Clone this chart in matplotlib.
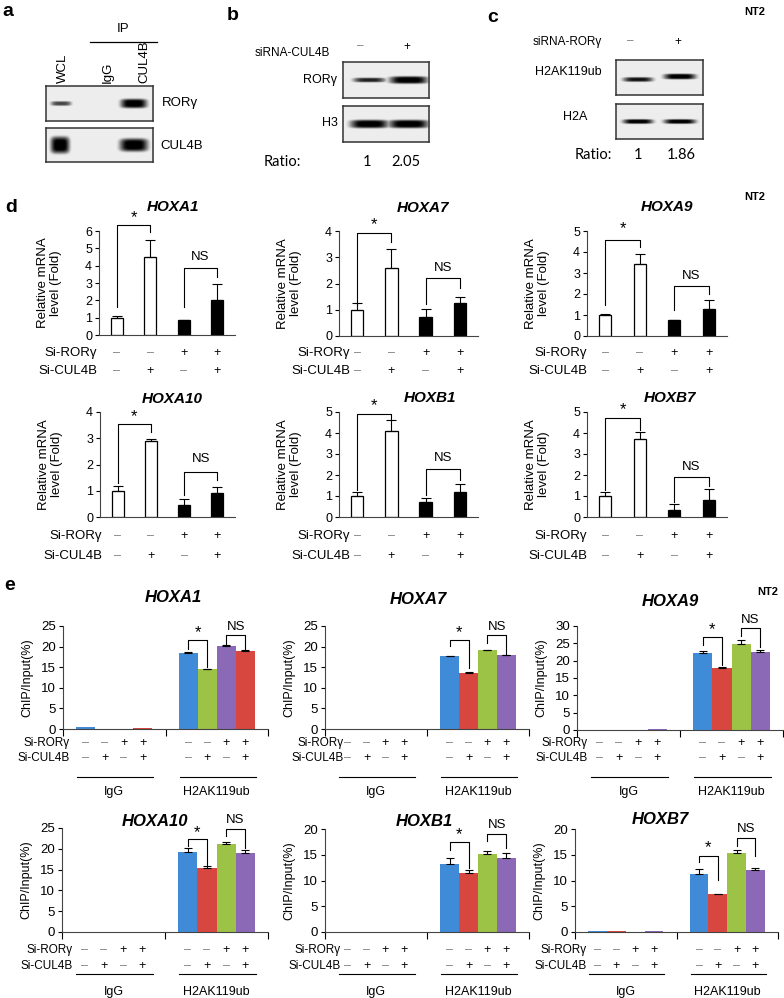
import numpy as np
import matplotlib.pyplot as plt
from matplotlib import transforms

plt.rcParams['font.family'] = ['Liberation Sans', 'DejaVu Sans']

# ---------------- data ----------------
# blots (relative band intensity per lane)
a_lanes = ['WCL', 'IgG', 'CUL4B']
a_ror = [0.75, 0.0, 1.0]
a_cul = [1.0, 0.0, 1.0]
b_ror = [0.85, 1.0]
b_h3 = [1.0, 1.0]
b_ratio = ['1', '2.05']
c_h2aub = [0.9, 1.0]
c_h2a = [1.0, 1.0]
c_ratio = ['1', '1.86']

# d: qPCR
d_genes = ['HOXA1', 'HOXA7', 'HOXA9', 'HOXA10', 'HOXB1', 'HOXB7']
d_means = [[1.0, 4.5, 0.85, 2.0], [1.0, 2.6, 0.72, 1.25], [1.0, 3.44, 0.75, 1.3],
           [1.0, 2.89, 0.44, 0.91], [1.0, 4.1, 0.7, 1.2], [1.0, 3.7, 0.35, 0.8]]
d_errs = [[0.12, 1.0, 0.0, 0.95], [0.27, 0.72, 0.3, 0.23], [0.05, 0.48, 0.0, 0.4],
          [0.19, 0.1, 0.25, 0.25], [0.2, 0.5, 0.2, 0.35], [0.2, 0.35, 0.25, 0.55]]
d_ymax = [6, 4, 5, 4, 5, 5]
# brackets: left leg bottom, top, right leg bottom, label y
d_star = [(1.6, 6.37, 5.95, 6.8), (1.17, 3.94, 3.6, 4.25), (1.46, 4.59, 4.24, 5.1),
          (1.29, 3.56, 3.24, 3.84), (1.3, 4.9, 4.65, 5.3), (1.3, 4.7, 4.15, 5.1)]
d_ns = [(1.64, 3.88, 3.34, 4.5), (1.23, 2.21, 1.84, 2.6), (1.22, 2.38, 1.98, 2.85),
        (0.85, 1.73, 1.41, 2.2), (1.05, 2.3, 1.75, 2.8), (0.7, 1.9, 1.5, 2.4)]
si_ror = ['–', '–', '+', '+']
si_cul = ['–', '+', '–', '+']

# e: ChIP
e_genes = ['HOXA1', 'HOXA7', 'HOXA9', 'HOXA10', 'HOXB1', 'HOXB7']
e_groups = ['IgG', 'H2AK119ub']
e_igg = [[0.4, 0.05, 0.1, 0.15], [0.1, 0.05, 0.05, 0.1], [0.1, 0.05, 0.1, 0.15],
         [0.05, 0.05, 0.05, 0.1], [0.05, 0.05, 0.05, 0.05], [0.2, 0.15, 0.05, 0.1]]
e_h2a = [[18.4, 14.5, 20.2, 18.9], [17.6, 13.5, 19.1, 17.9], [22.3, 18.0, 24.9, 22.4],
         [19.2, 15.3, 21.2, 18.9], [13.3, 11.4, 15.2, 14.4], [11.3, 7.3, 15.4, 12.0]]
e_h2a_err = [[0.2, 0.15, 0.15, 0.2], [0.15, 0.3, 0.15, 0.15], [0.6, 0.2, 1.0, 0.7],
             [1.0, 0.5, 0.4, 0.9], [1.0, 0.6, 0.45, 1.0], [1.0, 0.15, 0.5, 0.45]]
e_ymax = [25, 25, 30, 25, 20, 20]
e_star = [(19.5, 21.7, 15.1, 23.3), (20.1, 21.7, 14.9, 23.3), (24.4, 26.7, 18.7, 29.0),
          (20.6, 22.3, 16.1, 24.0), (16.0, 17.4, 12.4, 19.0), (13.5, 14.8, 10.1, 16.3)]
e_ns = [(20.7, 22.7, 19.1, 24.8), (20.9, 22.9, 18.1, 24.8), (27.0, 29.5, 24.0, 31.6),
        (23.0, 24.8, 20.2, 27.0), (17.6, 19.0, 16.3, 20.8), (16.7, 18.2, 14.75, 20.0)]

BLUE, RED, GREEN, PURPLE = '#3f8bd8', '#d8473f', '#9cc246', '#8b69b6'
e_colors = [[BLUE, GREEN, PURPLE, RED]] + [[BLUE, RED, GREEN, PURPLE]] * 5

# ---------------- figure helpers ----------------
W, H = 784, 998
fig = plt.figure(figsize=(W / 100, H / 100), dpi=100)
DASH = '#808080'


def px_axes(l, t, r, b):
    return fig.add_axes([l / W, 1 - b / H, (r - l) / W, (b - t) / H])


def ftext(x, y, s, **kw):
    kw.setdefault('ha', 'center')
    kw.setdefault('va', 'center')
    fig.text(x / W, 1 - y / H, s, **kw)


def fline(x0, x1, y, lw=0.9):
    fig.add_artist(plt.Line2D([x0 / W, x1 / W], [1 - y / H, 1 - y / H], color='black', lw=lw))


def draw_blot(l, t, r, b, lanes, levels, widths, heights, offsets=None):
    ax = px_axes(l, t, r, b)
    xs = np.linspace(l, r, 260)
    ys = np.linspace(t, b, 90)
    X, Y = np.meshgrid(xs, ys)
    img = np.full_like(X, 0.13)
    yc = (t + b) / 2
    if offsets is None:
        offsets = [0] * len(lanes)
    for c, lv, w, h, o in zip(lanes, levels, widths, heights, offsets):
        band = lv * np.exp(-np.abs((X - c) / w) ** 4) * np.exp(-((Y - yc - o) / h) ** 4)
        img = np.maximum(img, band)
    ax.imshow(img, cmap='Greys', vmin=0, vmax=0.95, extent=[l, r, b, t], aspect='auto',
              interpolation='bilinear')
    ax.set_xticks([])
    ax.set_yticks([])
    for s in ax.spines.values():
        s.set_linewidth(1.1)
        s.set_color('#333333')
    return ax


def bracket(ax, x1, x2, spec, text, fs):
    lb, top, rb, ty = spec
    ax.plot([x1, x1, x2, x2], [lb, top, top, rb], color='black', lw=0.8, clip_on=False)
    ax.text((x1 + x2) / 2, ty, text, ha='center', va='center', fontsize=fs, clip_on=False)


def style_axes(ax, labelsize):
    ax.tick_params(axis='y', direction='out', length=3, labelsize=labelsize, width=0.8, pad=2)
    for s in ['top', 'right']:
        ax.spines[s].set_visible(False)
    for s in ['left', 'bottom']:
        ax.spines[s].set_linewidth(0.8)
        ax.spines[s].set_color('#444444')


def sign_row(ax, xs, y, signs, fs):
    trans = transforms.blended_transform_factory(ax.transData, fig.transFigure)
    for xx, s in zip(xs, signs):
        ax.text(xx, 1 - y / H, s, transform=trans, ha='center', va='center', fontsize=fs,
                color=DASH if s == '–' else 'black')


# ---------------- panel a ----------------
ftext(8, 12, 'a', fontsize=14, fontweight='bold')
ftext(123, 29, 'IP', fontsize=9.5)
fline(90, 157, 42)
for x, lab in zip([63, 108, 144], a_lanes):
    ftext(x, 83, lab, rotation=90, va='bottom', fontsize=9.5)
draw_blot(46, 86, 153, 121, [61, 100, 134], a_ror, [11, 10, 14], [2.5, 2, 5])
draw_blot(46, 128, 153, 162, [60, 100, 134], a_cul, [10, 10, 15], [9, 6, 7])
ftext(162, 103, 'RORγ', ha='left', fontsize=9.5)
ftext(160, 146, 'CUL4B', ha='left', fontsize=9.5)

# ---------------- panel b ----------------
ftext(233, 16, 'b', fontsize=14, fontweight='bold')
ftext(330, 53, 'siRNA-CUL4B', ha='right', fontsize=8.5)
ftext(360, 46, '–', fontsize=8.5, color=DASH)
ftext(407, 47, '+', fontsize=8.5)
draw_blot(343, 62, 429, 98, [369, 408], b_ror, [17, 20], [2.5, 4])
draw_blot(343, 106, 429, 142, [369, 408], b_h3, [20, 21], [4.5, 4.5])
ftext(320, 80, 'RORγ', fontsize=9)
ftext(330, 123, 'H3', fontsize=9)
ftext(301, 162, 'Ratio:', ha='right', fontsize=10.5, family=['Lato', 'DejaVu Sans'])
for x, r in zip([367, 406], b_ratio):
    ftext(x, 162, r, fontsize=10.5, family=['Lato', 'DejaVu Sans'])

# ---------------- panel c ----------------
ftext(493, 17, 'c', fontsize=14, fontweight='bold')
ftext(755, 12, 'NT2', fontsize=8, fontweight='bold')
ftext(602, 42, 'siRNA-RORγ', ha='right', fontsize=8.5)
ftext(630, 41, '–', fontsize=8.5, color=DASH)
ftext(678, 42, '+', fontsize=8.5)
draw_blot(616, 60, 703, 95, [638, 680], c_h2aub, [16, 17], [2.5, 3], offsets=[2, -1])
draw_blot(616, 104, 703, 139, [638, 680], c_h2a, [16, 17], [2.5, 2.5])
ftext(568, 72, 'H2AK119ub', fontsize=9)
ftext(575, 117, 'H2A', fontsize=9)
ftext(612, 155, 'Ratio:', ha='right', fontsize=10.5, family=['Lato', 'DejaVu Sans'])
for x, r in zip([638, 681], c_ratio):
    ftext(x, 155, r, fontsize=10.5, family=['Lato', 'DejaVu Sans'])

# ---------------- panel d ----------------
ftext(11, 207, 'd', fontsize=14, fontweight='bold')
ftext(755, 197, 'NT2', fontsize=8, fontweight='bold')
d_rects = [(99, 231, 235, 335), (339, 231, 478, 336), (587, 231, 727, 336),
           (100, 412, 235, 517), (339, 412, 478, 517), (587, 412, 727, 517)]
d_titles = [(173, 207), (423, 208), (667, 207), (172, 399), (430, 398), (670, 398)]
d_sign_y = [(353, 371)] * 3 + [(536, 556)] * 3
d_lab_x = [97, 350, 587, 102, 350, 587]

x4 = np.arange(4)
for i, gene in enumerate(d_genes):
    l, t, r, b = d_rects[i]
    ax = px_axes(l, t, r, b)
    ax.bar(x4, d_means[i], width=0.36, color=['white', 'white', 'black', 'black'],
           edgecolor='black', linewidth=0.9)
    ax.errorbar(x4, d_means[i], yerr=[np.zeros(4), d_errs[i]], fmt='none', ecolor='black',
                elinewidth=0.8, capsize=3.5, capthick=0.8)
    ax.set_xlim(-0.53, 3.53)
    ax.set_ylim(0, d_ymax[i])
    ax.set_yticks(np.arange(0, d_ymax[i] + 1))
    ax.set_xticks([])
    style_axes(ax, 9)
    ax.set_ylabel('Relative mRNA\nlevel (Fold)', fontsize=9.5, linespacing=1.1)
    ax.yaxis.set_label_coords(-37 / (r - l), 0.5)
    bracket(ax, 0, 1, d_star[i], '*', 12)
    bracket(ax, 2, 3, d_ns[i], 'NS', 9.5)
    tx, ty = d_titles[i]
    ftext(tx, ty, gene, fontsize=11, fontweight='bold', fontstyle='italic')
    y1, y2 = d_sign_y[i]
    ftext(d_lab_x[i], y1, 'Si-RORγ', ha='right', fontsize=9.5)
    ftext(d_lab_x[i], y2, 'Si-CUL4B', ha='right', fontsize=9.5)
    sign_row(ax, x4, y1, si_ror, 9)
    sign_row(ax, x4, y2, si_cul, 9)

# ---------------- panel e ----------------
ftext(10, 585, 'e', fontsize=14, fontweight='bold')
ftext(768, 592, 'NT2', fontsize=8, fontweight='bold')
e_rects = [(63, 626, 268, 729), (325, 626, 529, 729), (577, 626, 783, 730),
           (62, 828, 268, 932), (325, 829, 529, 932), (575, 829, 778, 932)]
e_titles = [(173, 598), (418, 599), (670, 602), (155, 821), (424, 821), (660, 820)]
e_sign_y = [(743, 758, 777, 792)] * 3 + [(950, 966, 974, 992)] * 3
e_lab_x = [70, 344, 588, 73, 341, 587]

bw = 0.185
offs = (np.arange(4) - 1.5) * bw
for i, gene in enumerate(e_genes):
    l, t, r, b = e_rects[i]
    ax = px_axes(l, t, r, b)
    ax.bar(0.5 + offs, e_igg[i], width=bw, color=e_colors[i], linewidth=0)
    ax.bar(1.5 + offs, e_h2a[i], width=bw, color=e_colors[i], linewidth=0)
    ax.errorbar(1.5 + offs, e_h2a[i], yerr=[np.zeros(4), e_h2a_err[i]], fmt='none',
                ecolor='black', elinewidth=0.8, capsize=3, capthick=0.8)
    ax.set_xlim(0, 2)
    ax.set_ylim(0, e_ymax[i])
    ax.set_yticks(np.arange(0, e_ymax[i] + 1, 5))
    ax.set_xticks([0, 1, 2])
    ax.tick_params(axis='x', direction='out', length=5, width=0.8, labelbottom=False)
    style_axes(ax, 9.5)
    ax.set_ylabel('ChIP/Input(%)', fontsize=9)
    ax.yaxis.set_label_coords(-30 / (r - l), 0.5)
    bracket(ax, 1.5 + offs[0], 1.5 + offs[1], e_star[i], '*', 12)
    bracket(ax, 1.5 + offs[2], 1.5 + offs[3], e_ns[i], 'NS', 9.5)
    tx, ty = e_titles[i]
    ftext(tx, ty, gene, fontsize=12, fontweight='bold', fontstyle='italic')
    trans = transforms.blended_transform_factory(ax.transData, fig.transFigure)
    y1, y2, yl, yg = e_sign_y[i]
    ftext(e_lab_x[i], y1, 'Si-RORγ', ha='right', fontsize=8.5)
    ftext(e_lab_x[i], y2, 'Si-CUL4B', ha='right', fontsize=8.5)
    for g, gname in enumerate(e_groups):
        gc = 0.5 + g
        sign_row(ax, gc + offs, y1, si_ror, 9)
        sign_row(ax, gc + offs, y2, si_cul, 9)
        ax.plot([gc - 0.36, gc + 0.38], [1 - yl / H] * 2, transform=trans, color='black',
                lw=0.8, clip_on=False)
        ax.text(gc, 1 - yg / H, gname, transform=trans, ha='center', va='center', fontsize=9)

fig.savefig('out.png', dpi=100)
